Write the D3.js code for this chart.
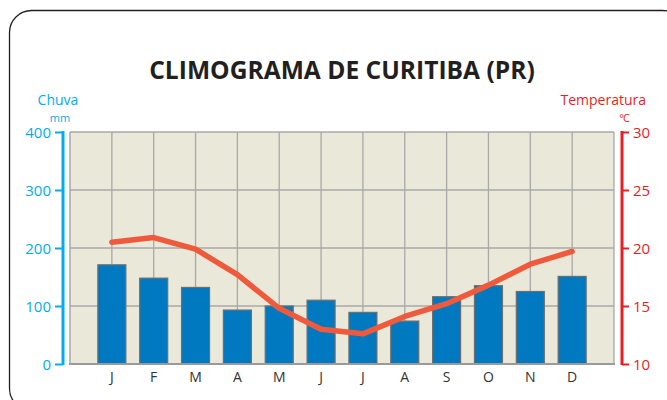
<!DOCTYPE html>
<html><head><meta charset="utf-8">
<script src="https://cdn.jsdelivr.net/npm/d3@7"></script>
<style>body{margin:0;background:#fff}svg{display:block}</style>
</head><body><svg id="c" width="667" height="400"></svg>
<script>
const months = ["J","F","M","A","M","J","J","A","S","O","N","D"];
const rain = [171,148,132,93,100,110,89,74,116,135,125,151];
const temp = [20.5,20.9,19.9,17.7,14.8,13.0,12.6,14.1,15.2,16.8,18.6,19.7];
const rainTicks = [0,100,200,300,400];
const tempTicks = [10,15,20,25,30];
const title = "CLIMOGRAMA DE CURITIBA (PR)";

const svg = d3.select("#c");
const L=70, R=614, T=132, B=364;
const idx = months.map((m,i)=>i);
const x = d3.scalePoint().domain(idx).range([L,R]).padding(1);
const yR = d3.scaleLinear().domain([0,400]).range([B,T]);
const yT = d3.scaleLinear().domain([10,30]).range([B,T]);

svg.append("rect").attr("x",9.5).attr("y",10.5).attr("width",675).attr("height",400)
  .attr("rx",22).attr("fill","none").attr("stroke","#231f20").attr("stroke-width",1.3);

svg.append("text").attr("x",342).attr("y",79).attr("text-anchor","middle")
  .attr("font-family","Open Sans").attr("font-weight",700).attr("font-size",24.6)
  .attr("fill","#231f20").text(title);

svg.append("rect").attr("x",L).attr("y",T).attr("width",R-L).attr("height",B-T).attr("fill","#eae8d8");
const gc="#a8a8a8";
svg.append("g").selectAll("line").data(idx).join("line")
  .attr("x1",d=>x(d)).attr("x2",d=>x(d)).attr("y1",T).attr("y2",B)
  .attr("stroke",gc).attr("stroke-width",1.3);
svg.append("g").selectAll("line").data(rainTicks.slice(1)).join("line")
  .attr("x1",L).attr("x2",R).attr("y1",d=>yR(d)).attr("y2",d=>yR(d))
  .attr("stroke",gc).attr("stroke-width",1.3);
svg.append("line").attr("x1",R).attr("x2",R).attr("y1",T).attr("y2",B).attr("stroke",gc).attr("stroke-width",1.3);
svg.append("line").attr("x1",L).attr("x2",L).attr("y1",T).attr("y2",B).attr("stroke",gc).attr("stroke-width",1.5);

const bw=28;
svg.append("g").selectAll("rect").data(rain).join("rect")
  .attr("x",(d,i)=>x(i)-bw/2).attr("width",bw)
  .attr("y",d=>yR(d)).attr("height",d=>B-yR(d))
  .attr("fill","#0079c1").attr("stroke","#6d6e70").attr("stroke-width",1.2);

svg.append("line").attr("x1",L-1).attr("x2",R+1).attr("y1",B).attr("y2",B).attr("stroke","#9a9a9a").attr("stroke-width",2.2);

svg.append("path").datum(temp)
  .attr("d",d3.line().x((d,i)=>x(i)).y(d=>yT(d)))
  .attr("fill","none").attr("stroke","#f05a3c").attr("stroke-width",5.5)
  .attr("stroke-linecap","round").attr("stroke-linejoin","round");

// month labels
svg.append("g").selectAll("text").data(months).join("text")
  .attr("x",(d,i)=>x(i)).attr("y",382).attr("text-anchor","middle")
  .attr("font-family","Open Sans").attr("font-size",14).attr("fill","#333")
  .text(d=>d);

// left axis
const blue="#00aeef";
const la = svg.append("g").attr("transform","translate(63,0)")
  .call(d3.axisLeft(yR).tickValues(rainTicks).tickSize(8).tickPadding(4));
la.select(".domain").remove();
la.append("line").attr("x1",0).attr("x2",0).attr("y1",T-1).attr("y2",B+1).attr("stroke",blue).attr("stroke-width",3);
la.selectAll(".tick line").attr("stroke",blue).attr("stroke-width",2);
la.selectAll(".tick text").attr("fill",blue).attr("font-family","Open Sans").attr("font-size",15).attr("dy","0.35em");

svg.append("text").attr("x",58).attr("y",104.5).attr("text-anchor","middle").attr("fill",blue)
  .attr("font-family","Open Sans").attr("font-size",14).text("Chuva");
svg.append("text").attr("x",60).attr("y",121.5).attr("text-anchor","middle").attr("fill",blue)
  .attr("font-family","Open Sans").attr("font-size",11).text("mm");

// right axis
const red="#ed1c24";
const ra = svg.append("g").attr("transform","translate(622,0)")
  .call(d3.axisRight(yT).tickValues(tempTicks).tickSize(7).tickPadding(4));
ra.select(".domain").remove();
ra.append("line").attr("x1",0).attr("x2",0).attr("y1",T-1).attr("y2",B+1).attr("stroke",red).attr("stroke-width",3);
ra.selectAll(".tick line").attr("stroke",red).attr("stroke-width",2);
ra.selectAll(".tick text").attr("fill",red).attr("font-family","Open Sans").attr("font-size",15).attr("dy","0.35em");

svg.append("text").attr("x",646).attr("y",104.5).attr("text-anchor","end").attr("fill",red)
  .attr("font-family","Open Sans").attr("font-size",14).text("Temperatura");
svg.append("text").attr("x",629).attr("y",121.5).attr("text-anchor","end").attr("fill",red)
  .attr("font-family","Open Sans").attr("font-size",11).attr("letter-spacing",-1).text("°C");
</script></body></html>
